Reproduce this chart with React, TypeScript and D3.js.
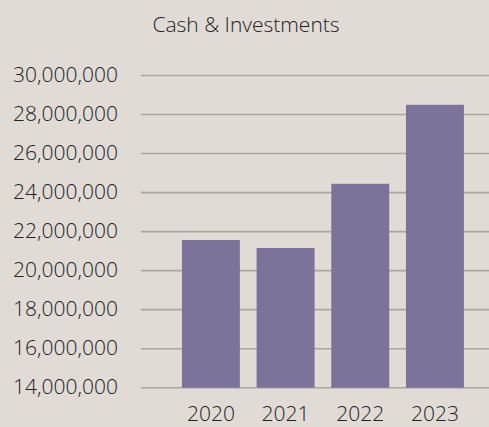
import React from "react";
import * as d3 from "d3";

const years = ["2020", "2021", "2022", "2023"];
const cashValues = [21570000, 21160000, 24450000, 28500000];
const tickValues = [14000000, 16000000, 18000000, 20000000, 22000000, 24000000, 26000000, 28000000, 30000000];
const chartTitle = "Cash & Investments";

const width = 489;
const height = 427;

export default function App() {
  const x = d3
    .scaleBand<string>()
    .domain(years)
    .range([141, 489])
    .paddingInner(0.224)
    .paddingOuter(0.442)
    .align(0.62);

  const y = d3.scaleLinear().domain([14000000, 30000000]).range([387.7, 75.5]);

  const fmt = d3.format(",");
  const font = "'Open Sans', sans-serif";
  const textColor = "#222222";

  return (
    <svg
      width={width}
      height={height}
      style={{ display: "block", position: "absolute", left: 0, top: 0 }}
    >
      <rect width={width} height={height} fill="#e1dbd6" />

      <text x={246} y={32} textAnchor="middle" fontFamily={font} fontSize={21} fontWeight={350} fill={textColor}>
        {chartTitle}
      </text>

      {/* gridlines */}
      {tickValues.map((t) => (
        <line
          key={"g" + t}
          x1={141}
          x2={489}
          y1={y(t)}
          y2={y(t)}
          stroke="#aaa6a2"
          strokeWidth={1.6}
        />
      ))}

      {/* y labels */}
      {tickValues.map((t) => (
        <text
          key={"l" + t}
          x={118}
          y={y(t) + 6.5}
          textAnchor="end"
          fontFamily={font}
          fontSize={21}
          fontWeight={350}
          fill={textColor}
        >
          {fmt(t)}
        </text>
      ))}

      {/* bars */}
      {years.map((yr, i) => (
        <rect
          key={yr}
          x={x(yr)}
          y={y(cashValues[i])}
          width={x.bandwidth()}
          height={y(14000000) - y(cashValues[i])}
          fill="#7b7399"
        />
      ))}

      {/* x labels */}
      {years.map((yr) => (
        <text
          key={"x" + yr}
          x={(x(yr) ?? 0) + x.bandwidth() / 2}
          y={421}
          textAnchor="middle"
          fontFamily={font}
          fontSize={21}
          fontWeight={350}
          fill={textColor}
        >
          {yr}
        </text>
      ))}
    </svg>
  );
}
